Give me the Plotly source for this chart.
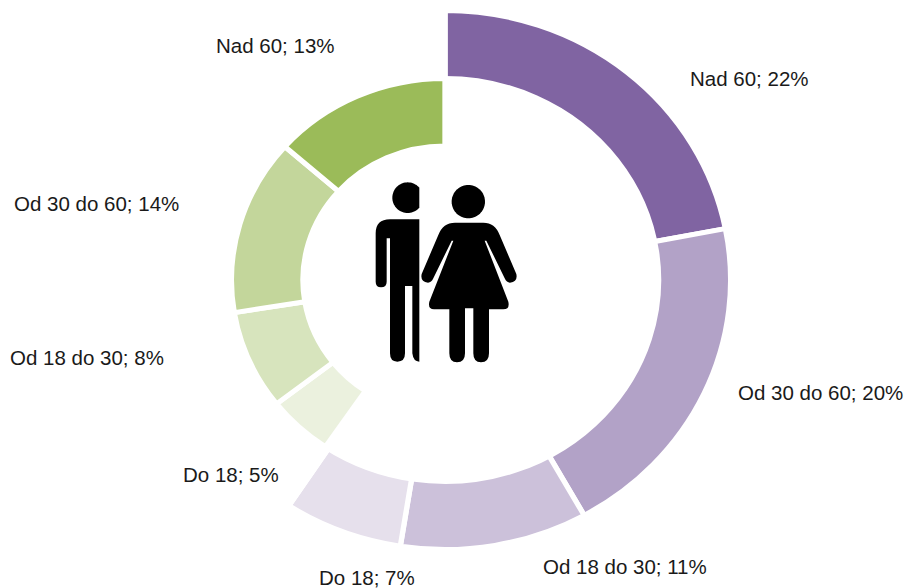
import numpy as np
import plotly.graph_objects as go

# Data (share of each ring, percent)
categories_outer = ["Nad 60", "Od 30 do 60", "Od 18 do 30", "Do 18"]
values_outer = [21.95, 19.95, 10.6, 6.7]
colors_outer = ["#8064A2", "#B2A2C7", "#CCC1DA", "#E6E0EC"]

categories_inner = ["Do 18", "Od 18 do 30", "Od 30 do 60", "Nad 60"]
values_inner = [5.0, 7.95, 14.1, 13.49]
colors_inner = ["#EBF1DE", "#D7E4BD", "#C3D69B", "#9BBB59"]

# label centres in page pixels
label_pos_outer = [(749, 78), (820, 392), (625, 566), (367, 577)]
label_pos_inner = [(231, 474), (87, 357), (96, 204), (275, 45)]

W, H = 904, 588
CX, CY = 445, 280
XSTRETCH = 1.06
GAP = 5


def dom(r):
    return dict(x=[(CX - r) / W, (CX + r) / W], y=[1 - (CY + r) / H, 1 - (CY - r) / H])


def ring(labels, values, colors, r, hole, rest_first):
    rest = 100 - sum(values)
    if rest_first:
        vals, labs, cols = [rest] + values, [""] + labels, ["rgba(0,0,0,0)"] + colors
    else:
        vals, labs, cols = values + [rest], labels + [""], colors + ["rgba(0,0,0,0)"]
    return go.Pie(values=vals, labels=labs, sort=False, direction="clockwise", rotation=0,
                  domain=dom(r), hole=hole, textinfo="none", hoverinfo="label+value",
                  showlegend=False,
                  marker=dict(colors=cols, line=dict(color="white", width=GAP)))


fig = go.Figure()
fig.add_trace(go.Scatter(x=[], y=[], showlegend=False))
fig.add_trace(ring(categories_outer, values_outer, colors_outer, 269.5, 200.5 / 269.5, False))
fig.add_trace(ring(categories_inner, values_inner, colors_inner, 201.5, 134 / 201.5, True))

# labels
annotations = []
for cats, vals, pos in ((categories_outer, values_outer, label_pos_outer),
                        (categories_inner, values_inner, label_pos_inner)):
    for c, v, (x, y) in zip(cats, vals, pos):
        annotations.append(dict(text=f"{c}; {v:.0f}%", x=x / W, y=1 - y / H, xref="paper", yref="paper",
                                xanchor="center", yanchor="middle", showarrow=False,
                                font=dict(family="Liberation Sans", size=20.5, color="#1a1a1a")))


# people icon, drawn on a hidden axis that is 3x page pixels offset to (360, 170)
def circle(cx, cy, r, xmax=None):
    t = np.linspace(0, 2 * np.pi, 73)
    x, y = cx + r * np.cos(t), cy + r * np.sin(t)
    if xmax is not None:
        x = np.minimum(x, xmax)
    return "M" + "L".join(f"{a:.1f},{b:.1f}" for a, b in zip(x, y)) + "Z"


man = ("M47,190 Q47,148 90,148 L178,148 L178,575 Q160,575 157,550 L157,348 L135,348 L135,550 "
       "Q135,575 112,575 Q90,575 90,550 L90,205 L80,205 L80,335 Q80,352 63,352 Q47,352 47,335 Z")
woman = ("M285,158 L370,158 Q405,158 419,195 L469,312 Q474,335 450,338 Q440,338 434,325 L379,212 L374,212 "
         "L445,395 Q450,418 430,418 L387,418 L387,550 Q387,577 363,577 Q340,577 340,550 L340,415 L315,415 "
         "L315,550 Q315,577 291,577 Q268,577 268,550 L268,418 L222,418 Q203,418 208,395 L280,212 L275,212 "
         "L220,325 Q214,338 204,338 Q180,335 185,312 L235,195 Q249,158 285,158 Z")
shapes = [dict(type="path", path=p, xref="x", yref="y", fillcolor="black", line=dict(width=0))
          for p in (man, woman, circle(143, 83, 46, 178), circle(325, 95, 50))]

fig.update_layout(
    width=W, height=H, margin=dict(l=0, r=0, t=0, b=0), paper_bgcolor="white", plot_bgcolor="rgba(0,0,0,0)",
    xaxis=dict(range=[-1080, 1632], visible=False, domain=[0, 1]),
    yaxis=dict(range=[1254, -510], visible=False, domain=[0, 1]),
    annotations=annotations, shapes=shapes,
)

post = f"""
document.body.style.margin='0';
var g=document.querySelector('.pielayer');
if(g){{g.setAttribute('transform','translate({CX} 0) scale({XSTRETCH} 1) translate({-CX} 0)');}}
"""
fig.write_html("out.html", post_script=post, config=dict(displayModeBar=False))
